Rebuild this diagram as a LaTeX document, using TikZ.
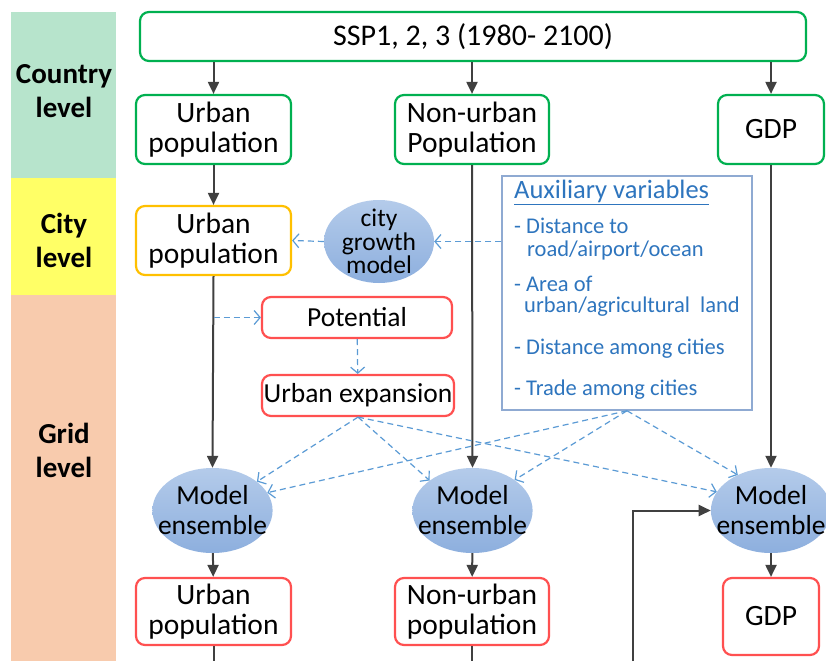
\documentclass[tikz,border=0pt]{standalone}
\usepackage{fontspec}
\setmainfont{Carlito}
\usepackage{tikz}
\usepackage{xcolor}
\usetikzlibrary{arrows.meta,shapes.geometric}

\definecolor{bandgreen}{RGB}{183,228,204}
\definecolor{bandyellow}{RGB}{255,255,102}
\definecolor{bandpeach}{RGB}{248,203,173}
\definecolor{ctrygreen}{RGB}{0,176,80}
\definecolor{cityyellow}{RGB}{255,192,0}
\definecolor{gridred}{RGB}{255,80,80}
\definecolor{enstop}{RGB}{180,203,234}
\definecolor{ensbot}{RGB}{141,175,222}
\definecolor{arrgray}{RGB}{64,64,64}
\definecolor{dashblue}{RGB}{91,155,213}
\definecolor{auxframe}{RGB}{143,170,210}
\definecolor{auxtext}{RGB}{46,117,190}

\begin{document}
\begin{tikzpicture}[x=1pt, y=-1pt,
  box/.style={draw, rounded corners=9pt, line width=2.2pt, fill=white, align=center,
    inner sep=0pt, font=\fontsize{29.5}{30}\selectfont},
  ens/.style={ellipse, inner xsep=-12pt, inner ysep=0pt, top color=enstop, bottom color=ensbot,
    align=center, font=\fontsize{27.5}{30}\selectfont},
  arr/.style={draw=arrgray, line width=2pt, -{Triangle[length=12pt,width=11pt]}},
  dasharr/.style={draw=dashblue, line width=1.2pt, dash pattern=on 6pt off 4pt,
    -{Straight Barb[length=6pt,width=14pt]}},
  lvl/.style={font=\bfseries\fontsize{29}{34}\selectfont, align=center},
  auxitem/.style={anchor=west, inner sep=0pt, text=auxtext, font=\fontsize{22.5}{24}\selectfont}]

  \useasboundingbox (0,0) rectangle (826,661);
  \fill[white] (0,0) rectangle (826,661);

  % level bands
  \fill[bandgreen]  (11,12)  rectangle (116,178);
  \fill[bandyellow] (11,178) rectangle (116,295);
  \fill[bandpeach]  (11,295) rectangle (116,661);
  \node[lvl] (country) at (64,91)  {Country\\level};
  \node[lvl] (city)    at (64,240) {City\\level};
  \node[lvl] (grid)    at (64,450) {Grid\\level};

  % country level
  \node[box, draw=ctrygreen, minimum width=666, minimum height=49, font=\fontsize{30}{30}\selectfont] (ssp) at (473,36.5) {SSP1, 2, 3 (1980- 2100)};
  \node[box, draw=ctrygreen, minimum width=155, minimum height=69] (cup) at (213.5,129.5) {Urban\\population};
  \node[box, draw=ctrygreen, minimum width=154, minimum height=69] (cnup) at (472,129.5) {Non-urban\\Population};
  \node[box, draw=ctrygreen, minimum width=106, minimum height=69] (cgdp) at (771,129.5) {GDP};

  % city level
  \node[box, draw=cityyellow, minimum width=155, minimum height=69] (tup) at (213.5,240.5) {Urban\\population};
  \node[ens, inner xsep=-1pt, inner ysep=-5pt, minimum width=110, minimum height=83,
    font=\fontsize{25.5}{23.5}\selectfont] (cgm) at (379,241.5) {city\\growth\\model};

  % auxiliary variables
  \node[draw=auxframe, line width=1.5pt, minimum width=250, minimum height=234] (aux) at (627,293) {};
  \node[auxitem, font=\fontsize{26.5}{28}\selectfont] (auxtitle) at (514,192) {\underline{Auxiliary variables}};
  \node[auxitem] (auxa)  at (514,226) {- Distance to};
  \node[auxitem] (auxa2) at (527,250) {road/airport/ocean};
  \node[auxitem] (auxb)  at (514,284) {- Area of};
  \node[auxitem] (auxb2) at (524,307) {urban/agricultural\ \ land};
  \node[auxitem] (auxc)  at (514,349) {- Distance among cities};
  \node[auxitem] (auxd)  at (514,390) {- Trade among cities};

  % grid level
  \node[box, draw=gridred, minimum width=190, minimum height=41, font=\fontsize{27.5}{30}\selectfont] (pot) at (357,317.5) {Potential};
  \node[box, draw=gridred, minimum width=192, minimum height=41, font=\fontsize{27.5}{30}\selectfont] (ue) at (358,395.5) {Urban expansion};
  \node[ens, minimum width=119, minimum height=85] (me1) at (212.5,510.5) {Model\\ensemble};
  \node[ens, minimum width=119, minimum height=85] (me2) at (472.5,510.5) {Model\\ensemble};
  \node[ens, minimum width=118, minimum height=85] (me3) at (771,510.5) {Model\\ensemble};
  \node[box, draw=gridred, minimum width=155, minimum height=67] (gup) at (213.5,611.5) {Urban\\population};
  \node[box, draw=gridred, minimum width=154, minimum height=67] (gnup) at (472,611.5) {Non-urban\\population};
  \node[box, draw=gridred, minimum width=96, minimum height=77] (ggdp) at (771,616.5) {GDP};

  \coordinate (bot) at (0,661);
  \coordinate (loop) at (633,661);

  % solid flow
  \draw[arr] (ssp.south -| cup.north) -- (cup.north);
  \draw[arr] (ssp.south -| cnup.north) -- (cnup.north);
  \draw[arr] (ssp.south -| cgdp.north) -- (cgdp.north);
  \draw[arr] (cup) -- (tup);
  \draw[arr] (tup.south) -- (me1.north);
  \draw[arr] (cnup.south) -- (me2.north);
  \draw[arr] (cgdp.south) -- (me3.north);
  \draw[arr] (me1) -- (gup);
  \draw[arr] (me2) -- (gnup);
  \draw[arr] (me3) -- (ggdp);
  \draw[arrgray, line width=2pt] (gup.south) -- (gup.south |- bot);
  \draw[arrgray, line width=2pt] (gnup.south) -- (gnup.south |- bot);
  \draw[arr] (loop) |- (me3.west);

  % dashed influences
  \draw[dasharr] (aux.west |- cgm.east) -- (cgm.east);
  \draw[dasharr] (cgm.west) -- (tup.east);
  \draw[dasharr] (tup.south |- pot.west) -- (pot.west);
  \draw[dasharr] (pot) -- (ue);
  \draw[dasharr] (ue.south) -- (me1.33);
  \draw[dasharr] (ue.south) -- (me2.145);
  \draw[dasharr] (ue.south) -- (me3.161);
  \draw[dasharr] (aux.south) -- (me1.18);
  \draw[dasharr] (aux.south) -- (me2.36);
  \draw[dasharr] (aux.south) -- (me3.133);
\end{tikzpicture}
\end{document}
